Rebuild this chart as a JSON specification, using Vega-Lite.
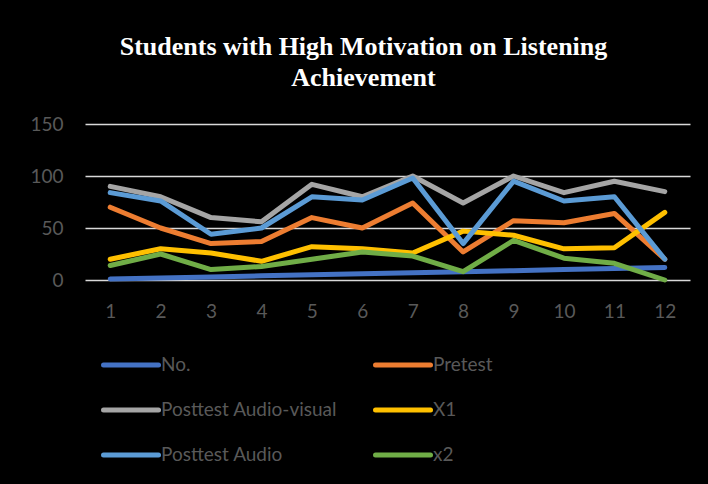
{
  "$schema": "https://vega.github.io/schema/vega-lite/v6.json",
  "width": 605,
  "height": 156,
  "autosize": {"type": "none"},
  "padding": {"left": 85, "top": 124, "right": 18, "bottom": 204},
  "background": "black",
  "title": {
    "text": ["Students with High Motivation on Listening", "Achievement"],
    "font": "Liberation Serif",
    "fontSize": 26,
    "fontWeight": "bold",
    "color": "white",
    "anchor": "middle",
    "dx": -24,
    "lineHeight": 31,
    "offset": 24
  },
  "datasets": {
    "scores": [
      {"No": 1, "series": "No.", "value": 1},
      {"No": 2, "series": "No.", "value": 2},
      {"No": 3, "series": "No.", "value": 3},
      {"No": 4, "series": "No.", "value": 4},
      {"No": 5, "series": "No.", "value": 5},
      {"No": 6, "series": "No.", "value": 6},
      {"No": 7, "series": "No.", "value": 7},
      {"No": 8, "series": "No.", "value": 8},
      {"No": 9, "series": "No.", "value": 9},
      {"No": 10, "series": "No.", "value": 10},
      {"No": 11, "series": "No.", "value": 11},
      {"No": 12, "series": "No.", "value": 12},
      {"No": 1, "series": "Pretest", "value": 70},
      {"No": 2, "series": "Pretest", "value": 50},
      {"No": 3, "series": "Pretest", "value": 35},
      {"No": 4, "series": "Pretest", "value": 37},
      {"No": 5, "series": "Pretest", "value": 60},
      {"No": 6, "series": "Pretest", "value": 50},
      {"No": 7, "series": "Pretest", "value": 74},
      {"No": 8, "series": "Pretest", "value": 27},
      {"No": 9, "series": "Pretest", "value": 57},
      {"No": 10, "series": "Pretest", "value": 55},
      {"No": 11, "series": "Pretest", "value": 64},
      {"No": 12, "series": "Pretest", "value": 20},
      {"No": 1, "series": "Posttest Audio-visual", "value": 90},
      {"No": 2, "series": "Posttest Audio-visual", "value": 80},
      {"No": 3, "series": "Posttest Audio-visual", "value": 60},
      {"No": 4, "series": "Posttest Audio-visual", "value": 56},
      {"No": 5, "series": "Posttest Audio-visual", "value": 92},
      {"No": 6, "series": "Posttest Audio-visual", "value": 80},
      {"No": 7, "series": "Posttest Audio-visual", "value": 100},
      {"No": 8, "series": "Posttest Audio-visual", "value": 74},
      {"No": 9, "series": "Posttest Audio-visual", "value": 100},
      {"No": 10, "series": "Posttest Audio-visual", "value": 84},
      {"No": 11, "series": "Posttest Audio-visual", "value": 95},
      {"No": 12, "series": "Posttest Audio-visual", "value": 85},
      {"No": 1, "series": "X1", "value": 20},
      {"No": 2, "series": "X1", "value": 30},
      {"No": 3, "series": "X1", "value": 26},
      {"No": 4, "series": "X1", "value": 18},
      {"No": 5, "series": "X1", "value": 32},
      {"No": 6, "series": "X1", "value": 30},
      {"No": 7, "series": "X1", "value": 26},
      {"No": 8, "series": "X1", "value": 47},
      {"No": 9, "series": "X1", "value": 43},
      {"No": 10, "series": "X1", "value": 30},
      {"No": 11, "series": "X1", "value": 31},
      {"No": 12, "series": "X1", "value": 65},
      {"No": 1, "series": "Posttest Audio", "value": 84},
      {"No": 2, "series": "Posttest Audio", "value": 76},
      {"No": 3, "series": "Posttest Audio", "value": 44},
      {"No": 4, "series": "Posttest Audio", "value": 50},
      {"No": 5, "series": "Posttest Audio", "value": 80},
      {"No": 6, "series": "Posttest Audio", "value": 77},
      {"No": 7, "series": "Posttest Audio", "value": 98},
      {"No": 8, "series": "Posttest Audio", "value": 35},
      {"No": 9, "series": "Posttest Audio", "value": 95},
      {"No": 10, "series": "Posttest Audio", "value": 76},
      {"No": 11, "series": "Posttest Audio", "value": 80},
      {"No": 12, "series": "Posttest Audio", "value": 20},
      {"No": 1, "series": "x2", "value": 14},
      {"No": 2, "series": "x2", "value": 25},
      {"No": 3, "series": "x2", "value": 10},
      {"No": 4, "series": "x2", "value": 13},
      {"No": 5, "series": "x2", "value": 20},
      {"No": 6, "series": "x2", "value": 27},
      {"No": 7, "series": "x2", "value": 23},
      {"No": 8, "series": "x2", "value": 8},
      {"No": 9, "series": "x2", "value": 38},
      {"No": 10, "series": "x2", "value": 21},
      {"No": 11, "series": "x2", "value": 16},
      {"No": 12, "series": "x2", "value": 0}
    ]
  },
  "data": {"name": "scores"},
  "mark": {"type": "line", "strokeWidth": 5, "strokeCap": "round", "strokeJoin": "round"},
  "encoding": {
    "x": {
      "field": "No",
      "type": "ordinal",
      "title": null,
      "axis": {
        "labelAngle": 0,
        "domain": false,
        "ticks": false,
        "labelPadding": 22,
        "labelFont": "Lato",
        "labelFontSize": 19,
        "labelColor": "#595959"
      }
    },
    "y": {
      "field": "value",
      "type": "quantitative",
      "title": null,
      "scale": {"domain": [0, 150], "nice": false},
      "axis": {
        "values": [0, 50, 100, 150],
        "domain": false,
        "ticks": false,
        "grid": true,
        "gridColor": "#d9d9d9",
        "gridWidth": 1.5,
        "labelPadding": 22,
        "labelFont": "Lato",
        "labelFontSize": 19,
        "labelColor": "#595959"
      }
    },
    "color": {
      "field": "series",
      "type": "nominal",
      "title": null,
      "scale": {
        "domain": ["No.", "Posttest Audio-visual", "Posttest Audio", "Pretest", "X1", "x2"],
        "range": ["#4472C4", "#A5A5A5", "#5B9BD5", "#ED7D31", "#FFC000", "#70AD47"]
      },
      "legend": {
        "orient": "none",
        "legendX": 16,
        "legendY": 211,
        "columns": 2,
        "columnPadding": 27,
        "rowPadding": 5,
        "symbolType": "stroke",
        "symbolSize": 3025,
        "symbolStrokeWidth": 5,
        "labelOffset": 0,
        "labelFont": "Lato",
        "labelFontSize": 19,
        "labelColor": "#595959",
        "labelLimit": 300,
        "encode": {
          "symbols": {"update": {"strokeCap": {"value": "round"}}}
        }
      }
    }
  },
  "config": {
    "view": {"stroke": null}
  }
}
